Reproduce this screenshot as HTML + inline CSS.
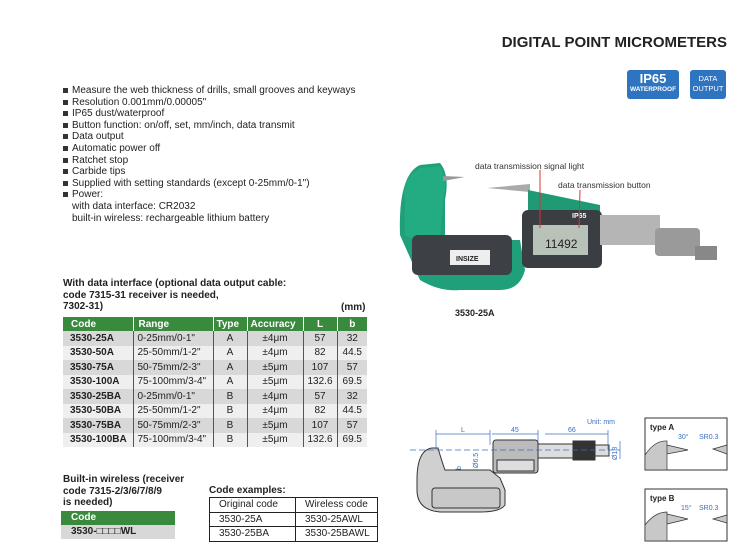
<!DOCTYPE html>
<html><head><meta charset="utf-8"><style>
*{margin:0;padding:0;box-sizing:border-box}
body{width:756px;height:547px;background:#fff;position:relative;overflow:hidden;font-family:"Liberation Sans",Arial,sans-serif;color:#222}
.a{position:absolute;white-space:nowrap}
.bl{font-size:10px;line-height:11.6px;left:72px}
.bl div{position:relative}
.bl div.b::before{content:"";position:absolute;left:-9px;top:3px;width:5px;height:5px;background:#333}
table{border-collapse:collapse;position:absolute}
.t1{left:63px;top:317px;width:304px;font-size:10px}
.t1 th{background:#3a8a3e;color:#fff;font-weight:bold;height:14px;text-align:left;padding-left:8px;border-right:1px solid #fff}
.t1 td{height:14.5px;padding:0 0 0 4px;border-right:1px solid #555}
.t1 td:first-child{padding-left:7px}
.t1 td:last-child,.t1 th:last-child{border-right:none}
.t1 tr:nth-child(even) td{background:#d8d8d8}
.t1 tr:nth-child(odd) td{background:#efefef}
.c{text-align:center;padding:0!important}
.t2{left:209px;top:497px;width:169px;font-size:10px;border:1px solid #222}
.t2 td{border:1px solid #222;height:14.5px;padding-left:9px}
</style></head><body>
<div class="a" style="right:29px;top:34px;font-size:15px;font-weight:bold;color:#222">DIGITAL POINT MICROMETERS</div>
<div class="a" style="left:627px;top:70px;width:52px;height:29px;background:#2f74c0;border-radius:3px;color:#fff;text-align:center">
<div style="font-size:13px;font-weight:bold;line-height:14px;margin-top:2px">IP65</div><div style="font-size:6.5px;font-weight:bold">WATERPROOF</div></div>
<div class="a" style="left:690px;top:70px;width:36px;height:29px;background:#2f74c0;border-radius:3px;color:#fff;text-align:center;font-size:7.5px;line-height:10px;padding-top:4px">DATA<br>OUTPUT</div>

<div class="a bl" style="top:85px">
<div class="b">Measure the web thickness of drills, small grooves and keyways</div>
<div class="b">Resolution 0.001mm/0.00005"</div>
<div class="b">IP65 dust/waterproof</div>
<div class="b">Button function: on/off, set, mm/inch, data transmit</div>
<div class="b">Data output</div>
<div class="b">Automatic power off</div>
<div class="b">Ratchet stop</div>
<div class="b">Carbide tips</div>
<div class="b">Supplied with setting standards (except 0-25mm/0-1")</div>
<div class="b">Power:</div>
<div>with data interface: CR2032</div>
<div>built-in wireless: rechargeable lithium battery</div>
</div>

<div class="a" style="left:63px;top:278px;font-size:10px;font-weight:bold;line-height:11.5px">With data interface (optional data output cable:<br>code 7315-31 receiver is needed,<br>7302-31)</div>
<div class="a" style="left:341px;top:302px;font-size:10px;font-weight:bold">(mm)</div>
<table class="t1">
<tr><th style="width:70px">Code</th><th style="width:80px;padding-left:5px">Range</th><th style="width:34px;padding-left:3px">Type</th><th style="width:56px;padding-left:3px">Accuracy</th><th style="width:34px;text-align:center;padding:0">L</th><th style="text-align:center;padding:0">b</th></tr>
<tr><td><b>3530-25A</b></td><td>0-25mm/0-1"</td><td class="c">A</td><td class="c">±4μm</td><td class="c">57</td><td class="c">32</td></tr>
<tr><td><b>3530-50A</b></td><td>25-50mm/1-2"</td><td class="c">A</td><td class="c">±4μm</td><td class="c">82</td><td class="c">44.5</td></tr>
<tr><td><b>3530-75A</b></td><td>50-75mm/2-3"</td><td class="c">A</td><td class="c">±5μm</td><td class="c">107</td><td class="c">57</td></tr>
<tr><td><b>3530-100A</b></td><td>75-100mm/3-4"</td><td class="c">A</td><td class="c">±5μm</td><td class="c">132.6</td><td class="c">69.5</td></tr>
<tr><td><b>3530-25BA</b></td><td>0-25mm/0-1"</td><td class="c">B</td><td class="c">±4μm</td><td class="c">57</td><td class="c">32</td></tr>
<tr><td><b>3530-50BA</b></td><td>25-50mm/1-2"</td><td class="c">B</td><td class="c">±4μm</td><td class="c">82</td><td class="c">44.5</td></tr>
<tr><td><b>3530-75BA</b></td><td>50-75mm/2-3"</td><td class="c">B</td><td class="c">±5μm</td><td class="c">107</td><td class="c">57</td></tr>
<tr><td><b>3530-100BA</b></td><td>75-100mm/3-4"</td><td class="c">B</td><td class="c">±5μm</td><td class="c">132.6</td><td class="c">69.5</td></tr>
</table>

<div class="a" style="left:63px;top:474px;font-size:10px;font-weight:bold;line-height:11.6px">Built-in wireless (receiver<br>code 7315-2/3/6/7/8/9<br>is needed)</div>
<div class="a" style="left:61px;top:511px;width:114px;height:14px;background:#3a8a3e;color:#fff;font-size:10px;font-weight:bold;padding-left:10px;line-height:14px">Code</div>
<div class="a" style="left:61px;top:525px;width:114px;height:14px;background:#d8d8d8;font-size:10px;font-weight:bold;padding-left:10px;line-height:14px">3530-□□□□WL</div>
<div class="a" style="left:209px;top:485px;font-size:10px;font-weight:bold">Code examples:</div>
<table class="t2">
<tr><td style="width:86px">Original code</td><td>Wireless code</td></tr>
<tr><td>3530-25A</td><td>3530-25AWL</td></tr>
<tr><td>3530-25BA</td><td>3530-25BAWL</td></tr>
</table>

<svg class="a" style="left:0;top:0" width="756" height="547">
<path d="M400 235 Q398 175 420 165 L440 163 Q450 175 445 200 L445 235 Q448 240 470 240 L520 240 L525 270 Q520 290 500 290 L460 290 Q440 292 420 280 Z" fill="#1fa07a"/>
<path d="M405 200 Q400 180 420 168 L440 166 Q448 180 443 200 L440 240 Q420 245 405 235Z" fill="#27b386" opacity=".6"/>
<rect x="412" y="235" width="100" height="40" rx="6" fill="#3d4045"/>
<rect x="450" y="250" width="40" height="15" fill="#eee"/>
<text x="456" y="261" font-size="7" font-weight="bold" fill="#222" font-family="Liberation Sans">INSIZE</text>
<path d="M443 176 L465 177 L443 181Z" fill="#999"/>
<path d="M487 188 L530 184 L530 192Z" fill="#aaa"/>
<path d="M528 190 L600 205 L600 245 L540 260 L528 255Z" fill="#1f9a75"/>
<rect x="522" y="210" width="80" height="58" rx="6" fill="#3a3d42"/>
<rect x="533" y="225" width="55" height="30" fill="#b8c2b8"/>
<text x="545" y="248" font-size="12" fill="#222" font-family="Liberation Sans">11492</text>
<text x="572" y="218" font-size="7" font-weight="bold" fill="#fff" font-family="Liberation Sans">IP65</text>
<rect x="600" y="215" width="60" height="30" fill="#b5b5b5"/>
<rect x="655" y="228" width="45" height="28" rx="4" fill="#9a9a9a"/>
<rect x="695" y="246" width="22" height="14" fill="#888"/>
<line x1="540" y1="170" x2="540" y2="228" stroke="#d33" stroke-width="1"/>
<line x1="580" y1="190" x2="579" y2="228" stroke="#d33" stroke-width="1"/>
<text x="475" y="169" font-size="8.5" fill="#333" font-family="Liberation Sans">data transmission signal light</text>
<text x="558" y="188" font-size="8.5" fill="#333" font-family="Liberation Sans">data transmission button</text>
<text x="455" y="316" font-size="9" font-weight="bold" fill="#222" font-family="Liberation Sans">3530-25A</text>
<g stroke="#333" stroke-width="1" fill="#d0d0d0">
<path d="M417 480 Q417 450 432 448 L438 448 Q442 462 445 470 L490 470 L500 478 L505 490 L505 505 Q500 512 480 512 L440 512 Q417 510 417 490Z"/>
<rect x="432" y="488" width="68" height="20" rx="3" fill="#c8c8c8"/>
<rect x="493" y="440" width="45" height="33" rx="3" fill="#bbb"/>
<rect x="497" y="460" width="37" height="11" fill="#ddd"/>
<rect x="538" y="444" width="35" height="14" fill="#ddd"/>
<rect x="573" y="441" width="22" height="19" fill="#333"/>
<rect x="595" y="445" width="14" height="11" fill="#ddd"/>
</g>
<g stroke="#3a6fc0" stroke-width=".7" fill="none">
<line x1="436" y1="434" x2="490" y2="434"/><line x1="492" y1="434" x2="538" y2="434"/><line x1="545" y1="434" x2="608" y2="434"/>
<line x1="436" y1="430" x2="436" y2="450"/><line x1="490" y1="430" x2="490" y2="445"/><line x1="538" y1="430" x2="538" y2="442"/><line x1="608" y1="430" x2="608" y2="450"/>
<line x1="410" y1="450" x2="620" y2="450" stroke-dasharray="6 3"/>
<line x1="620" y1="441" x2="620" y2="459"/>
</g>
<g font-family="Liberation Sans" font-size="7" fill="#3a6fc0">
<text x="587" y="424">Unit: mm</text><text x="461" y="432">L</text><text x="511" y="432">45</text><text x="568" y="432">66</text>
<text x="461" y="470" transform="rotate(-90 461 470)">b</text><text x="478" y="468" transform="rotate(-90 478 468)">Ø6.5</text><text x="617" y="460" transform="rotate(-90 617 460)">Ø18</text>
</g>
<g stroke="#333" fill="none">
<rect x="645" y="418" width="82" height="52"/><rect x="645" y="489" width="82" height="52"/>
</g>
<path d="M645 470 L645 455 Q655 440 667 441 L667 470Z M667 445 L688 450 L667 454Z M713 449 L727 445 L727 454Z" fill="#c8c8c8" stroke="#333" stroke-width=".7"/>
<path d="M645 541 L645 525 Q655 512 667 512 L667 541Z M667 514 L688 519 L667 524Z M713 519 L727 515 L727 523Z" fill="#c8c8c8" stroke="#333" stroke-width=".7"/>
<g font-family="Liberation Sans" font-size="8">
<text x="650" y="430" font-weight="bold" fill="#222">type A</text><text x="650" y="501" font-weight="bold" fill="#222">type B</text>
<text x="678" y="439" fill="#3a6fc0" font-size="7">30°</text><text x="699" y="439" fill="#3a6fc0" font-size="7">SR0.3</text>
<text x="681" y="510" fill="#3a6fc0" font-size="7">15°</text><text x="699" y="510" fill="#3a6fc0" font-size="7">SR0.3</text>
</g>
</svg>
</body></html>
